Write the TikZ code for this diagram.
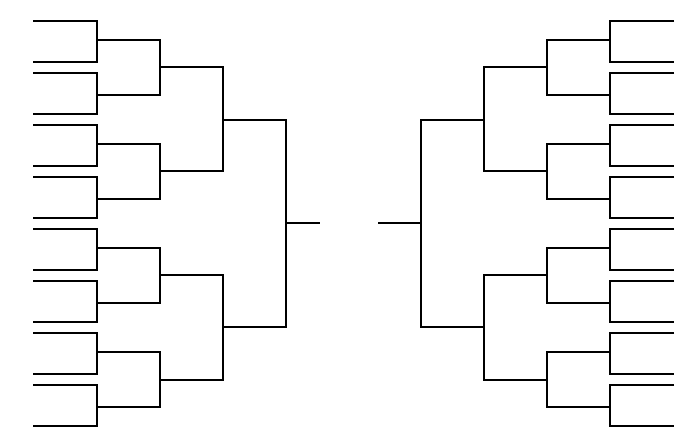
\documentclass[tikz,border=0pt]{standalone}
\begin{document}
\begin{tikzpicture}[x=0.025cm,y=-0.025cm]
  \tikzstyle{bracket}=[line width=1.4pt]
  \useasboundingbox (0,0) rectangle (700,438);

  % Runde 1 (Startlinien)
  \foreach \y [count=\i] in {21,62,73,114,125,166,177,218,229,270,281,322,333,374,385,426} {
    \coordinate (la\i) at (33,\y);
    \coordinate (ra\i) at (674,\y);
  }
  % Runde 2
  \foreach \y [count=\i] in {40,95,144,199,248,303,352,407} {
    \coordinate (lb\i) at (97,\y);
    \coordinate (rb\i) at (610,\y);
  }
  % Achtelfinale
  \foreach \y [count=\i] in {67,171,275,380} {
    \coordinate (lc\i) at (160,\y);
    \coordinate (rc\i) at (547,\y);
  }
  % Viertelfinale
  \foreach \y [count=\i] in {120,327} {
    \coordinate (ld\i) at (223,\y);
    \coordinate (rd\i) at (484,\y);
  }
  % Halbfinale und Finale
  \coordinate (le) at (286,223);
  \coordinate (re) at (421,223);
  \coordinate (lf) at (320,223);
  \coordinate (rf) at (378,223);

  % Klammern
  \foreach \s in {l,r} {
    \foreach \i in {1,...,8} {
      \pgfmathtruncatemacro{\ja}{2*\i-1}
      \pgfmathtruncatemacro{\jb}{2*\i}
      \draw[bracket] (\s a\ja) -| (\s b\i) |- (\s a\jb);
    }
    \foreach \i in {1,...,4} {
      \pgfmathtruncatemacro{\ja}{2*\i-1}
      \pgfmathtruncatemacro{\jb}{2*\i}
      \draw[bracket] (\s b\ja) -| (\s c\i) |- (\s b\jb);
    }
    \foreach \i in {1,2} {
      \pgfmathtruncatemacro{\ja}{2*\i-1}
      \pgfmathtruncatemacro{\jb}{2*\i}
      \draw[bracket] (\s c\ja) -| (\s d\i) |- (\s c\jb);
    }
    \draw[bracket] (\s d1) -| (\s e) |- (\s d2);
    \draw[bracket] (\s e) -- (\s f);
  }

\end{tikzpicture}
\end{document}
